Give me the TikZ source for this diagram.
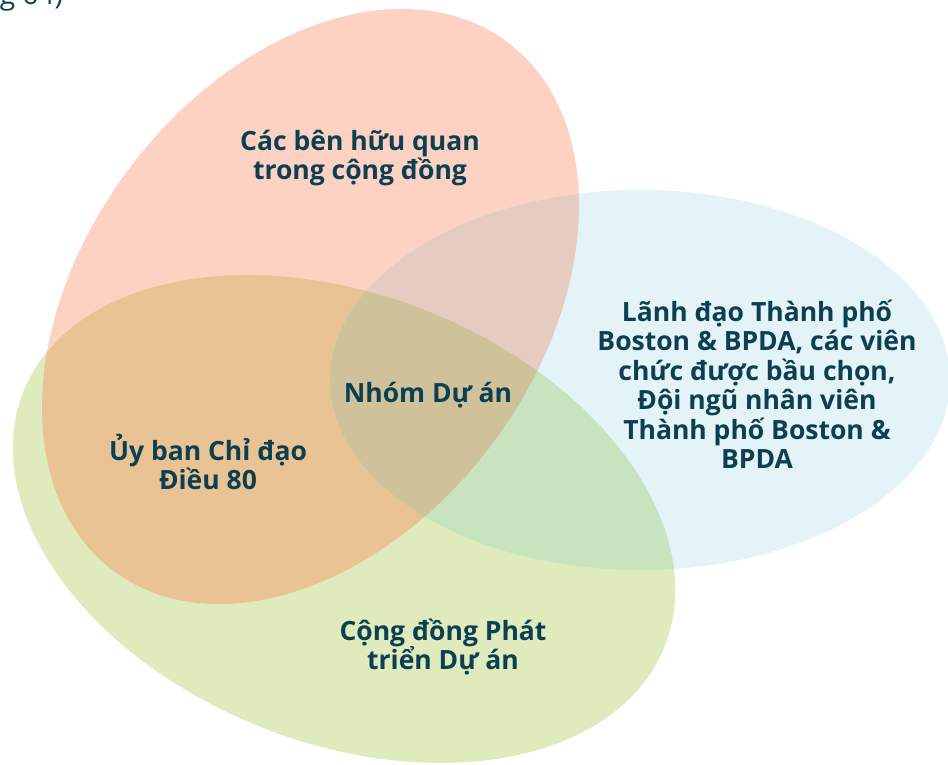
\documentclass[tikz,border=0pt]{standalone}
\usepackage{fontspec}
\setmainfont{Open Sans}
\definecolor{txt}{HTML}{0D3F52}
\definecolor{cP}{HTML}{FDD2C3}
\definecolor{cB}{HTML}{E3F3F7}
\definecolor{cG}{HTML}{DFEBBC}
\definecolor{cPG}{HTML}{E9C394}
\definecolor{cPB}{HTML}{E6CBC0}
\definecolor{cBG}{HTML}{C8E4BF}
\definecolor{cPBG}{HTML}{CFC19A}
\tikzset{
  pinkshape/.style={shift={(310.5,458.5)},rotate=53.4},
  blueshape/.style={shift={(640,385)}},
  greenshape/.style={shift={(344,246)},rotate=-21.6},
  lbl/.style={text=txt,align=center,font=\fontsize{26.5}{29.5}\selectfont\bfseries,inner sep=0pt},
}
\newcommand{\pinkE}{(0,0) ellipse [x radius=329.7pt, y radius=227.8pt]}
\newcommand{\blueE}{(0,0) ellipse [x radius=310pt, y radius=190pt]}
\newcommand{\greenE}{(0,0) ellipse [x radius=345pt, y radius=224pt]}
\begin{document}
\begin{tikzpicture}[x=1pt,y=1pt]
\useasboundingbox (0,0) rectangle (948,765);
\fill[white] (0,0) rectangle (948,765);
% base fills
\fill[cP, pinkshape] \pinkE;
\fill[cB, blueshape] \blueE;
\fill[cG, greenshape] \greenE;
% pink overlaps
\begin{scope}
  \clip[pinkshape] \pinkE;
  \fill[cPB, blueshape] \blueE;
  \fill[cPG, greenshape] \greenE;
\end{scope}
% blue & green
\begin{scope}
  \clip[blueshape] \blueE;
  \fill[cBG, greenshape] \greenE;
\end{scope}
% all three
\begin{scope}
  \clip[pinkshape] \pinkE;
  \clip[blueshape] \blueE;
  \fill[cPBG, greenshape] \greenE;
\end{scope}
% labels
\node[lbl] (comm) at (360,607) {Các bên hữu quan\\trong cộng đồng};
\node[lbl] (team) at (428,370) {Nhóm Dự án};
\node[lbl] (steer) at (208,303) {Ủy ban Chỉ đạo\\Điều 80};
\node[lbl] (city) at (757,381) {Lãnh đạo Thành phố\\Boston \& BPDA, các viên\\chức được bầu chọn,\\Đội ngũ nhân viên\\Thành phố Boston \&\\BPDA};
\node[lbl] (dev) at (443,118) {Cộng đồng Phát\\triển Dự án};
\node[text=txt,font=\fontsize{28}{30}\selectfont,anchor=base east,inner sep=0pt] (cap) at (63,760.5) {g 64)};
\end{tikzpicture}
\end{document}
